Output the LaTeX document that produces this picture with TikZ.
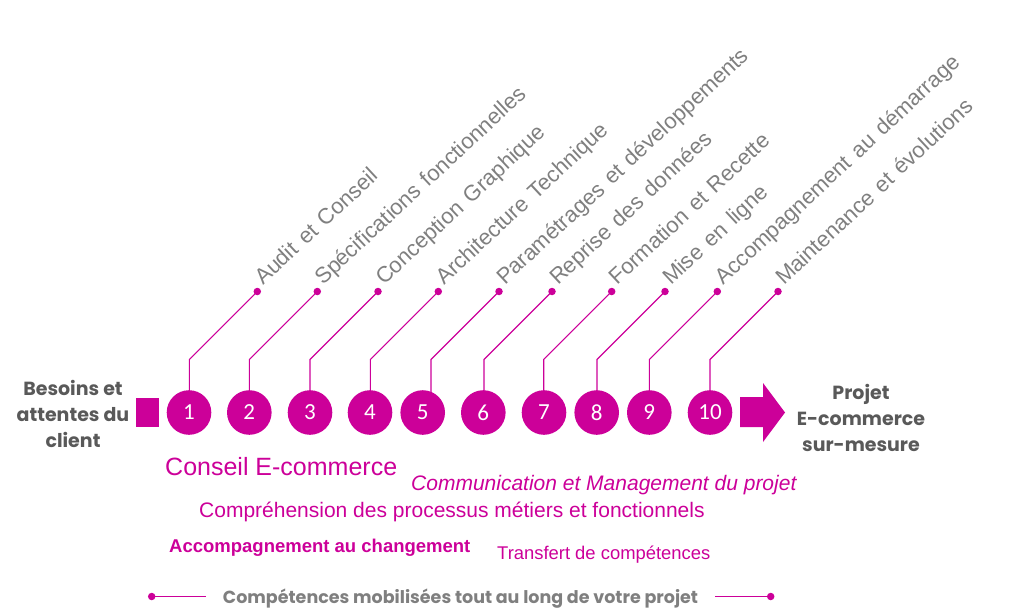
\documentclass[tikz,border=0pt]{standalone}
\usepackage{fontspec}
\setmainfont{Liberation Sans}
\newfontfamily\gothicfont{Poppins}
\newfontfamily\digitfont{Carlito}
\usetikzlibrary{backgrounds}
\definecolor{ecmagenta}{HTML}{CC0099}
\definecolor{ecgray}   {HTML}{7F7F7F}
\definecolor{ecdark}   {HTML}{595959}
\newcommand{\fsz}[1]{\fontsize{#1}{#1}\selectfont}
\newcommand{\labelfont}{\fsz{22}\spaceskip 8.5pt\relax}

\begin{document}
\begin{tikzpicture}[
  x=1pt, y=-1pt,
  every node/.style={inner sep=0pt},
  stage/.style={circle, fill=ecmagenta, minimum size=44.6pt,
    text=white, font=\digitfont\fsz{23}},
  pin/.style={circle, fill=ecmagenta, minimum size=7.5pt},
  leader/.style={draw=ecmagenta, line width=1.1pt},
  steplabel/.style={rotate=43, anchor=base west, inner sep=8pt,
    text=ecgray, font=\labelfont},
  endtext/.style={align=center, text=ecdark,
    font=\gothicfont\bfseries\fontsize{19}{26}\selectfont},
  skill/.style={anchor=base west, text=ecmagenta}
]
\useasboundingbox (0,0) rectangle (1024,615);

% Start and finish
\node[endtext] (besoins) at (73,414) {Besoins et\\attentes du\\client};
\node[fill=ecmagenta, minimum width=23pt, minimum height=29.5pt] (start) at (147.5,412.5) {};
\fill[ecmagenta] (740,397) -- (763,397) -- (763,383) -- (785,412.5)
  -- (763,442) -- (763,427) -- (740,427) -- cycle;
\node[endtext] (projet) at (861,418) {Projet\\E-commerce\\sur-mesure};

% Steps
\foreach \n/\cx/\dx/\txt in {
  1/189/257.3/Audit et Conseil,
  2/249.3/317.3/Spécifications fonctionnelles,
  3/310/378/Conception Graphique,
  4/370/438.3/Architecture Technique,
  5/422.7/499/Paramétrages et développements,
  6/483.3/552/Reprise des données,
  7/544/611.7/Formation et Recette,
  8/596.7/665/Mise en ligne,
  9/649.3/717.3/Accompagnement au démarrage,
  10/710/778/Maintenance et évolutions}{
  \node[stage] (c\n) at (\cx,412.5) {\n};
  \node[pin] (d\n) at (\dx,291.5) {};
  \node[steplabel] (t\n) at (d\n.center) {\txt};
  \begin{scope}[on background layer]
    \draw[leader] (d\n.center) -- ++(-68,68) |- (c\n.center);
  \end{scope}
}

% Skills
\node[skill, font=\fsz{25}] (conseil) at (165,475) {Conseil E-commerce};
\node[skill, font=\itshape\fsz{21}] (comm) at (411,490) {Communication et Management du projet};
\node[skill, font=\fsz{21}] (compr) at (199,517) {Compréhension des processus métiers et fonctionnels};
\node[skill, font=\bfseries\fsz{18.5}] (accomp) at (169,552) {Accompagnement au changement};
\node[skill, font=\fsz{18.4}] (transfert) at (497,559) {Transfert de compétences};

% Bottom line
\node[pin] (lpin) at (151.7,596.5) {};
\node[pin] (rpin) at (770.7,596.5) {};
\node[text=ecgray, font=\gothicfont\bfseries\fsz{17.5}] (mobil) at (460.5,599)
  {Compétences mobilisées tout au long de votre projet};
\draw[leader] (lpin.center) -- (lpin.center -| mobil.west) [shorten >=17pt];
\draw[leader] (rpin.center) -- (rpin.center -| mobil.east) [shorten >=17pt];
\end{tikzpicture}
\end{document}
